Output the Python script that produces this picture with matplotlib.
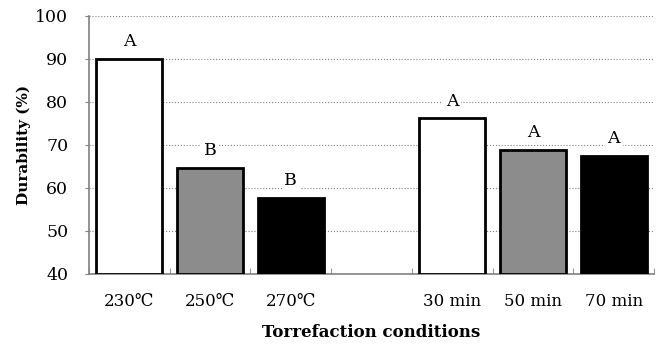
import matplotlib.pyplot as plt

labels = ['230\u2103', '250\u2103', '270\u2103', '', '30 min', '50 min', '70 min']
durability = [90.0, 64.7, 57.7, None, 76.2, 68.8, 67.5]
groups = ['A', 'B', 'B', '', 'A', 'A', 'A']
colors = ['white', '#8c8c8c', 'black', 'white', 'white', '#8c8c8c', 'black']

plt.rcParams['font.family'] = ['DejaVu Serif', 'Noto Sans CJK SC', 'DejaVu Sans']

fig = plt.figure(figsize=(6.58, 3.44), dpi=100)
ax = fig.add_axes([0.1353, 0.2035, 0.8586, 0.75])

x = list(range(len(labels)))
for i, v in enumerate(durability):
    if v is None:
        continue
    ax.bar(i, v - 40, bottom=40, width=0.82, color=colors[i],
           edgecolor='black', linewidth=2, zorder=3)
    ax.text(i, v + 4, groups[i], ha='center', va='center', fontsize=12.5,
            bbox=dict(facecolor='white', edgecolor='none', pad=2), zorder=4)

ax.set_xlim(-0.5, len(labels) - 0.5)
ax.set_ylim(40, 100)
ax.set_yticks(range(40, 101, 10))
ax.set_xticks(x)
ax.set_xticklabels(labels, fontsize=12)
ax.set_xticks([i + 0.5 for i in range(-1, len(labels))], minor=True)
ax.tick_params(axis='x', which='major', length=0, pad=14)
ax.tick_params(axis='x', which='minor', direction='in', length=4, color='#808080')
ax.tick_params(axis='y', labelsize=12.5, length=3, color='#808080', pad=12)

ax.yaxis.grid(True, linestyle=':', color='#808080', linewidth=0.8, zorder=0)
ax.set_axisbelow(True)
for s in ['top', 'right']:
    ax.spines[s].set_visible(False)
for s in ['left', 'bottom']:
    ax.spines[s].set_color('#808080')
    ax.spines[s].set_linewidth(1.2)

ax.set_ylabel('Durability (%)', fontsize=11, fontweight='bold', labelpad=3)
ax.set_xlabel('Torrefaction conditions', fontsize=12, fontweight='bold', labelpad=10)

fig.savefig('out.png', dpi=100)
